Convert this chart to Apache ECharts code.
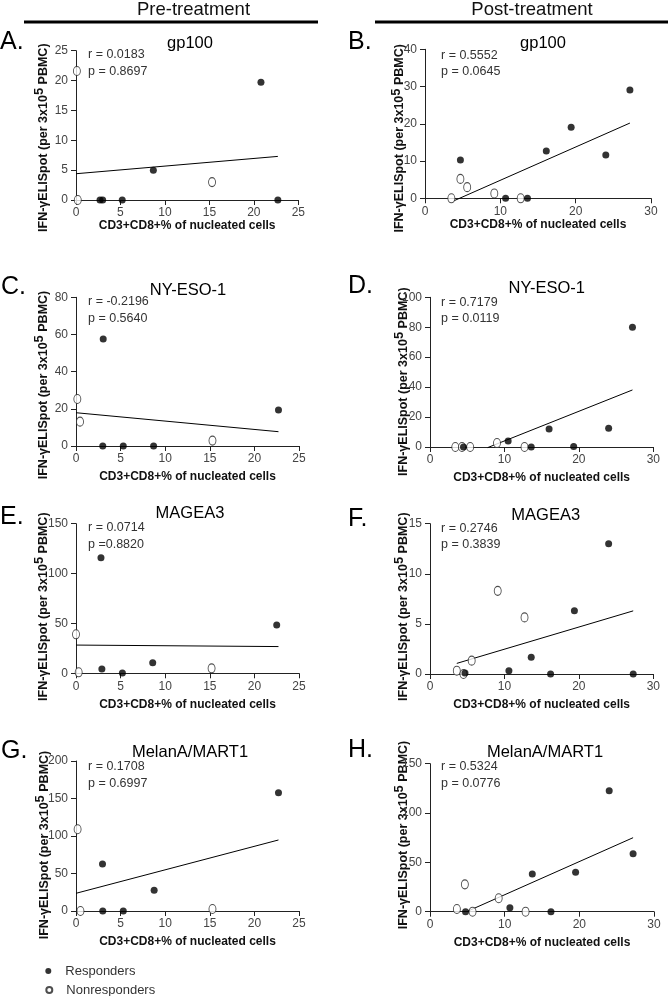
<!DOCTYPE html>
<html><head><meta charset="utf-8">
<script src="https://cdn.jsdelivr.net/npm/echarts@6/dist/echarts.min.js"></script>
<style>html,body{margin:0;padding:0;background:#fff}#c{width:669px;height:996px}</style>
</head><body><div id="c"></div>
<script>
// ---------- data ----------
const columnHeaders = ['Pre-treatment', 'Post-treatment'];
const panelLetters = ['A.', 'B.', 'C.', 'D.', 'E.', 'F.', 'G.', 'H.'];
const antigenTitles = ['gp100', 'gp100', 'NY-ESO-1', 'NY-ESO-1', 'MAGEA3', 'MAGEA3', 'MelanA/MART1', 'MelanA/MART1'];
const rLabels = ['r = 0.0183', 'r = 0.5552', 'r = -0.2196', 'r = 0.7179', 'r = 0.0714', 'r = 0.2746', 'r = 0.1708', 'r = 0.5324'];
const pLabels = ['p = 0.8697', 'p = 0.0645', 'p = 0.5640', 'p = 0.0119', 'p =0.8820', 'p = 0.3839', 'p = 0.6997', 'p = 0.0776'];
const xAxisTitle = 'CD3+CD8+% of nucleated cells';
const legendNames = ['Responders', 'Nonresponders'];
const xMaxes = [25, 30, 25, 30, 25, 30, 25, 30];
const xSteps = [5, 10, 5, 10, 5, 10, 5, 10];
const yMaxes = [25, 40, 80, 100, 150, 15, 200, 150];
const ySteps = [5, 10, 20, 20, 50, 5, 50, 50];

// A: pre gp100
const respA = [[2.7, 0], [3.0, 0], [5.2, 0], [8.7, 5.0], [20.8, 19.7], [22.7, 0]];
const nonA  = [[0.1, 21.6], [0.2, 0], [15.3, 3.0]];
const fitA  = [[0, 4.4], [22.7, 7.3]];
// B: post gp100
const respB = [[4.7, 10.3], [10.7, 0], [13.6, 0], [16.1, 12.7], [19.4, 19.1], [24.0, 11.6], [27.2, 29.1]];
const nonB  = [[3.5, 0], [4.7, 5.2], [5.6, 3.0], [9.2, 1.3], [12.7, 0]];
const fitB  = [[3.8, -0.7], [27.2, 20.2]];
// C: pre NY-ESO-1
const respC = [[3.05, 57.6], [3.0, 0], [5.3, 0], [8.7, 0], [22.7, 19.4]];
const nonC  = [[0.15, 25.3], [0.45, 13.1], [15.3, 2.9]];
const fitC  = [[0, 17.9], [22.7, 7.7]];
// D: post NY-ESO-1
const respD = [[4.5, 0], [10.5, 4.0], [13.6, 0], [16.0, 12.0], [19.3, 0.4], [24.0, 12.5], [27.2, 80.0]];
const nonD  = [[3.4, 0], [4.3, 0], [5.4, 0], [9.0, 2.7], [12.7, 0]];
const fitD  = [[7.75, -0.4], [27.2, 38.1]];
// E: pre MAGEA3
const respE = [[2.8, 115.9], [2.9, 4.3], [5.2, 0.3], [8.6, 10.7], [22.5, 48.4]];
const nonE  = [[0.0, 39.1], [0.3, 1.0], [15.2, 5.0]];
const fitE  = [[0, 28.3], [22.7, 26.8]];
// F: post MAGEA3
const respF = [[4.7, 0.1], [10.6, 0.33], [13.6, 1.66], [16.2, 0], [19.4, 6.3], [24.0, 13.0], [27.3, 0]];
const nonF  = [[3.6, 0.33], [4.5, 0], [5.6, 1.33], [9.1, 8.3], [12.7, 5.65]];
const fitF  = [[3.6, 1.06], [27.3, 6.3]];
// G: pre MelanA/MART1
const respG = [[2.97, 62.7], [3.0, 0], [5.3, 0], [8.76, 27.6], [22.7, 157.7]];
const nonG  = [[0.18, 109], [0.5, 0], [15.3, 2.7]];
const fitG  = [[0, 23.6], [22.7, 94.7]];
// H: post MelanA/MART1
const respH = [[4.76, 0], [10.7, 4.1], [13.7, 38.2], [16.2, 0], [19.5, 39.9], [24.0, 122.6], [27.2, 58.8]];
const nonH  = [[3.6, 2.7], [4.67, 27.7], [5.7, 0], [9.2, 13.6], [12.8, 0]];
const fitH  = [[5.1, 0.7], [27.2, 75.0]];

const respAll = [respA, respB, respC, respD, respE, respF, respG, respH];
const nonAll  = [nonA, nonB, nonC, nonD, nonE, nonF, nonG, nonH];
const fitAll  = [fitA, fitB, fitC, fitD, fitE, fitF, fitG, fitH];

// ---------- layout (pixels) ----------
const grids = [
  {left: 76,  top: 50.7,  width: 222.3, height: 149.3},
  {left: 425, top: 49.3,  width: 226,   height: 149},
  {left: 76,  top: 297.3, width: 223,   height: 148.7},
  {left: 430, top: 297.3, width: 223.3, height: 149.7},
  {left: 76,  top: 523.7, width: 223,   height: 149.6},
  {left: 430, top: 523.7, width: 223.3, height: 150.3},
  {left: 76,  top: 761,   width: 223,   height: 150},
  {left: 430, top: 763.7, width: 224,   height: 148}
];
const xNameGaps = [17, 17, 25, 25, 25, 25, 25, 25];
const letterPos = [[0, 42.5], [348, 42.5], [1, 286.7], [348, 286], [0, 517.5], [348, 519], [1, 750.8], [348, 750]];
const titlePos = [[190, 43], [543, 43], [188, 290], [546.7, 288], [190, 513], [545.7, 515], [190, 752], [545, 752]];
const rpPos = [[88, 55, 71.7], [441, 56, 71.7], [88, 302, 319], [441, 302.7, 318.3], [88, 528, 545], [441, 529, 545], [88, 766.7, 783.3], [441, 766.7, 783.3]];
const yLabelPos = [[41.7, 137.7], [398, 138.3], [41.7, 385], [401.7, 381.7], [41.7, 606.7], [401.7, 606.7], [42.7, 845], [401.7, 835]];

const FONT = '"Liberation Sans", Arial, sans-serif';
const axisColor = '#222';
const tickColor = '#444';

const xAxes = [], yAxes = [], series = [], graphics = [];
grids.forEach((g, i) => {
  xAxes.push({
    gridIndex: i, type: 'value', min: 0, max: xMaxes[i], interval: xSteps[i],
    name: xAxisTitle, nameLocation: 'middle', nameGap: xNameGaps[i],
    nameTextStyle: {fontFamily: FONT, fontSize: 12, fontWeight: 'bold', color: '#111'},
    axisLine: {show: true, onZero: false, lineStyle: {color: axisColor, width: 1}},
    axisTick: {show: true, length: 5, lineStyle: {color: axisColor}},
    axisLabel: {fontFamily: FONT, fontSize: 12, color: tickColor, margin: 7},
    splitLine: {show: false}
  });
  yAxes.push({
    gridIndex: i, type: 'value', min: 0, max: yMaxes[i], interval: ySteps[i],
    axisLine: {show: true, onZero: false, lineStyle: {color: axisColor, width: 1}},
    axisTick: {show: true, length: 5, lineStyle: {color: axisColor}},
    axisLabel: {fontFamily: FONT, fontSize: 12, color: tickColor, margin: 8},
    splitLine: {show: false}
  });
  series.push({
    type: 'line', xAxisIndex: i, yAxisIndex: i, data: fitAll[i], symbol: 'none',
    lineStyle: {color: '#000', width: 1}, silent: true, clip: false, z: 1
  });
  series.push({
    type: 'scatter', name: legendNames[1], xAxisIndex: i, yAxisIndex: i, data: nonAll[i],
    symbol: 'circle', symbolSize: [7, 9],
    itemStyle: {color: '#fff', borderColor: '#222', borderWidth: 1}, z: 2
  });
  series.push({
    type: 'scatter', name: legendNames[0], xAxisIndex: i, yAxisIndex: i, data: respAll[i],
    symbol: 'circle', symbolSize: 7, itemStyle: {color: '#000'}, z: 3
  });

  graphics.push({type: 'text', x: letterPos[i][0], y: letterPos[i][1],
    style: {text: panelLetters[i], font: '25px ' + FONT, fill: '#000', align: 'left', verticalAlign: 'middle'}});
  graphics.push({type: 'text', x: titlePos[i][0], y: titlePos[i][1],
    style: {text: antigenTitles[i], font: '16.5px ' + FONT, fill: '#000', align: 'center', verticalAlign: 'middle'}});
  graphics.push({type: 'text', x: rpPos[i][0], y: rpPos[i][1],
    style: {text: rLabels[i], font: '12.5px ' + FONT, fill: '#333', align: 'left', verticalAlign: 'middle'}});
  graphics.push({type: 'text', x: rpPos[i][0], y: rpPos[i][2],
    style: {text: pLabels[i], font: '12.5px ' + FONT, fill: '#333', align: 'left', verticalAlign: 'middle'}});
  graphics.push({type: 'text', x: yLabelPos[i][0], y: yLabelPos[i][1], rotation: Math.PI / 2,
    style: {
      text: '{a|IFN-γELISpot (per 3x10}{s|5}{a| PBMC)}',
      align: 'center', verticalAlign: 'middle',
      rich: {
        a: {fontSize: 12.5, fontWeight: 'bold', fontFamily: FONT, fill: '#111', verticalAlign: 'bottom'},
        s: {fontSize: 13, fontWeight: 'bold', fontFamily: FONT, fill: '#111', verticalAlign: 'top', padding: [0, 0, 4, 0]}
      }
    }});
});

graphics.push({type: 'text', x: 193.5, y: 10,
  style: {text: columnHeaders[0], font: '18.5px ' + FONT, fill: '#111', align: 'center', verticalAlign: 'middle'}});
graphics.push({type: 'text', x: 532, y: 10,
  style: {text: columnHeaders[1], font: '18.5px ' + FONT, fill: '#111', align: 'center', verticalAlign: 'middle'}});
graphics.push({type: 'line', shape: {x1: 24, y1: 22, x2: 318, y2: 22}, style: {stroke: '#000', lineWidth: 3}});
graphics.push({type: 'line', shape: {x1: 375, y1: 22, x2: 668, y2: 22}, style: {stroke: '#000', lineWidth: 3}});

const legendBase = {
  orient: 'vertical', left: 45.3, padding: 0,
  itemWidth: 6, itemHeight: 6, itemGap: 0, symbolKeepAspect: true,
  textStyle: {fontFamily: FONT, fontSize: 13, color: '#333', lineHeight: 16, padding: [0, 0, 0, 9]},
  selectedMode: false
};

const chart = echarts.init(document.getElementById('c'), null, {renderer: 'canvas'});
chart.setOption({
  backgroundColor: '#fff',
  animation: false,
  grid: grids.map(g => Object.assign({containLabel: false, outerBoundsMode: 'none'}, g)),
  xAxis: xAxes,
  yAxis: yAxes,
  legend: [
    Object.assign({}, legendBase, {top: 963, data: [{name: legendNames[0], icon: 'circle'}]}),
    Object.assign({}, legendBase, {top: 982, data: [{name: legendNames[1], icon: 'circle'}]})
  ],
  series: series,
  graphic: graphics
});
</script>
</body></html>
